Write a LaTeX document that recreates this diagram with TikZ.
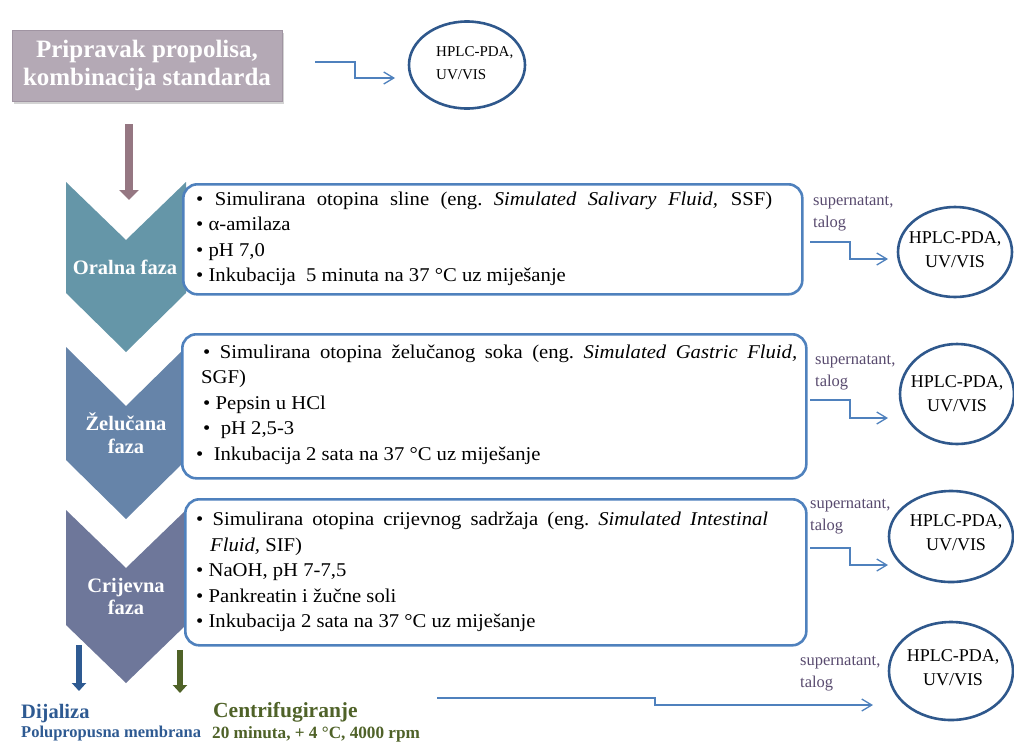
\documentclass[tikz,border=0pt]{standalone}
\usepackage{fontspec}
\setmainfont{Liberation Serif}
\newfontfamily\boxfont[FakeStretch=1.06]{Liberation Serif}
\usetikzlibrary{shapes.geometric,arrows.meta,shadows}
\definecolor{topfill}{RGB}{180,169,181}
\definecolor{topdraw}{RGB}{160,148,162}
\definecolor{oralc}{RGB}{101,150,168}
\definecolor{gastc}{RGB}{102,132,169}
\definecolor{intc}{RGB}{110,119,154}
\definecolor{boxblue}{RGB}{79,129,189}
\definecolor{ellblue}{RGB}{47,88,140}
\definecolor{supc}{RGB}{88,74,110}
\definecolor{mauve}{RGB}{149,119,130}
\definecolor{dialc}{RGB}{46,90,146}
\definecolor{centc}{RGB}{79,98,40}
\begin{document}
\begin{tikzpicture}[x=1pt,y=-1pt,
  tx/.style={anchor=base west,inner sep=0pt,font=\boxfont\fontsize{19.5}{22}\selectfont},
  frame/.style={draw=boxblue,line width=2.6pt,fill=white,rounded corners=14pt,anchor=north west},
  ell/.style={ellipse,draw=ellblue,line width=2.6pt,fill=white,inner sep=0pt},
  elltx/.style={align=center,inner sep=0pt,font=\fontsize{18}{24}\selectfont},
  sup/.style={anchor=base west,align=left,inner sep=0pt,text=supc,font=\fontsize{16.5}{22}\selectfont},
  conn/.style={draw=boxblue,line width=1.3pt,-{Straight Barb[length=10pt,width=12pt]}},
  phase/.style={inner sep=0pt,text=white,align=center,font=\fontsize{20.5}{23}\selectfont\bfseries},
  blockarrow/.style={-{Triangle[length=10pt,width=19pt]}}
]
\useasboundingbox (0,0) rectangle (1014,742);

% top box
\node[fill=topfill,draw=topdraw,line width=0.8pt,minimum width=270pt,minimum height=71pt,
      drop shadow={shadow xshift=2pt,shadow yshift=-2.5pt,opacity=0.35},
      text=white,align=center,font=\fontsize{25}{28.5}\selectfont\bfseries] (top) at (147,65.5)
      {Pripravak propolisa,\\kombinacija standarda};

% ellipse 1
\node[ell,minimum width=116pt,minimum height=87pt] (e1) at (467,65) {};
\node[align=left,inner sep=0pt,font=\fontsize{15}{23}\selectfont,anchor=west] (e1t) at (436,63) {HPLC-PDA,\\UV/VIS};
\coordinate (a1s) at (315,62);
\coordinate (a1e) at (395,78);
\draw[conn] (a1s) -- (355,62) |- (a1e);

% mauve down arrow
\coordinate (m1) at (129,124);
\coordinate (m2) at (129,200);
\draw[mauve,line width=8pt,blockarrow] (m1) -- (m2);

% chevrons
\fill[oralc] (66,182) -- (126,240) -- (186,182) -- (186,293) -- (126,352) -- (66,293) -- cycle;
\fill[gastc] (66,347) -- (126,406) -- (186,347) -- (186,460) -- (126,519) -- (66,460) -- cycle;
\fill[intc] (66,510) -- (126,568) -- (186,510) -- (186,625) -- (126,683) -- (66,625) -- cycle;

% text boxes
\node[frame,minimum width=619pt,minimum height=110pt] (b1) at (182,183) {};
\node[frame,minimum width=624pt,minimum height=144pt] (b2) at (181,333) {};
\node[frame,minimum width=621pt,minimum height=146pt] (b3) at (184,498) {};

% phase labels
\node[phase,anchor=base] (p1) at (125,274) {Oralna faza};
\node[phase,anchor=base] (p2) at (126,430) {Želučana};
\node[phase,anchor=base] (p2b) at (126,453) {faza};
\node[phase,anchor=base] (p3) at (126,592) {Crijevna};
\node[phase,anchor=base] (p3b) at (126,614) {faza};

% box 1 text
\node[tx] (t11) at (196,205) {\makebox[576pt][s]{\textbullet\ Simulirana otopina sline (eng.\ \textit{Simulated Salivary Fluid,} SSF)}};
\node[tx] (t12) at (196,230.5) {\textbullet\ α-amilaza};
\node[tx] (t13) at (196,256) {\textbullet\ pH 7,0};
\node[tx] (t14) at (196,281) {\textbullet\ Inkubacija\ \ 5 minuta na 37 °C uz miješanje};

% box 2 text
\node[tx] (t21) at (203,358) {\makebox[594pt][s]{\textbullet\ Simulirana otopina želučanog soka (eng.\ \textit{Simulated Gastric Fluid,}}};
\node[tx] (t22) at (201,383) {SGF)};
\node[tx] (t23) at (203,409) {\textbullet\ Pepsin u HCl};
\node[tx] (t24) at (203,434) {\textbullet\ \ pH 2,5-3};
\node[tx] (t25) at (196,460) {\textbullet\ \ Inkubacija 2 sata na 37 °C uz miješanje};

% box 3 text
\node[tx] (t31) at (196,525) {\makebox[572pt][s]{\textbullet\ Simulirana otopina crijevnog sadržaja (eng.\ \textit{Simulated Intestinal}}};
\node[tx] (t32) at (210,551) {\textit{Fluid,} SIF)};
\node[tx] (t33) at (196,576) {\textbullet\ NaOH,\ pH 7-7,5};
\node[tx] (t34) at (196,602) {\textbullet\ Pankreatin\ i žučne soli};
\node[tx] (t35) at (196,627) {\textbullet\ Inkubacija\ 2 sata na 37 °C uz miješanje};

% right side ellipses
\node[ell,minimum width=114pt,minimum height=90pt] (e2) at (955,252) {};
\node[elltx] (e2t) at (955,250) {HPLC-PDA,\\UV/VIS};
\node[ell,minimum width=114pt,minimum height=100pt] (e3) at (957,394) {};
\node[elltx] (e3t) at (957,394) {HPLC-PDA,\\UV/VIS};
\node[ell,minimum width=124pt,minimum height=91pt] (e4) at (951,536.5) {};
\node[elltx] (e4t) at (956,533) {HPLC-PDA,\\UV/VIS};
\node[ell,minimum width=124pt,minimum height=98pt] (e5) at (951,671) {};
\node[elltx] (e5t) at (953,668) {HPLC-PDA,\\UV/VIS};

% supernatant labels (base = last line)
\node[sup] (s1) at (813,227) {supernatant,\\talog};
\node[sup] (s2) at (815,386) {supernatant,\\talog};
\node[sup] (s3) at (810,530) {supernatant,\\talog};
\node[sup] (s4) at (800,687) {supernatant,\\talog};

% connectors to ellipses
\coordinate (c2s) at (810,242); \coordinate (c2e) at (888,259);
\draw[conn] (c2s) -- (850,242) |- (c2e);
\coordinate (c3s) at (810,400); \coordinate (c3e) at (888,418);
\draw[conn] (c3s) -- (850,400) |- (c3e);
\coordinate (c4s) at (810,548); \coordinate (c4e) at (888,565);
\draw[conn] (c4s) -- (850,548) |- (c4e);
\coordinate (c5s) at (437,698); \coordinate (c5e) at (873,705);
\draw[conn] (c5s) -- (655,698) |- (c5e);

% bottom arrows
\coordinate (d1) at (79,645); \coordinate (d2) at (79,691);
\draw[dialc,line width=5.5pt,-{Triangle[length=8pt,width=14pt]}] (d1) -- (d2);
\coordinate (g1) at (180,650); \coordinate (g2) at (180,693);
\draw[centc,line width=5.5pt,-{Triangle[length=8pt,width=14pt]}] (g1) -- (g2);

% bottom labels
\node[anchor=base west,inner sep=0pt,text=dialc,font=\fontsize{20.5}{24}\selectfont\bfseries] (dl) at (21,718) {Dijaliza};
\node[anchor=base west,inner sep=0pt,text=dialc,font=\fontsize{16.5}{20}\selectfont\bfseries] (dl2) at (21,737) {Polupropusna membrana};
\node[anchor=base west,inner sep=0pt,text=centc,font=\fontsize{21.5}{24}\selectfont\bfseries] (cf) at (213,717) {Centrifugiranje};
\node[anchor=base west,inner sep=0pt,text=centc,font=\fontsize{17.2}{20}\selectfont\bfseries] (cf2) at (212,738) {20 minuta, + 4 °C, 4000 rpm};
\end{tikzpicture}
\end{document}
